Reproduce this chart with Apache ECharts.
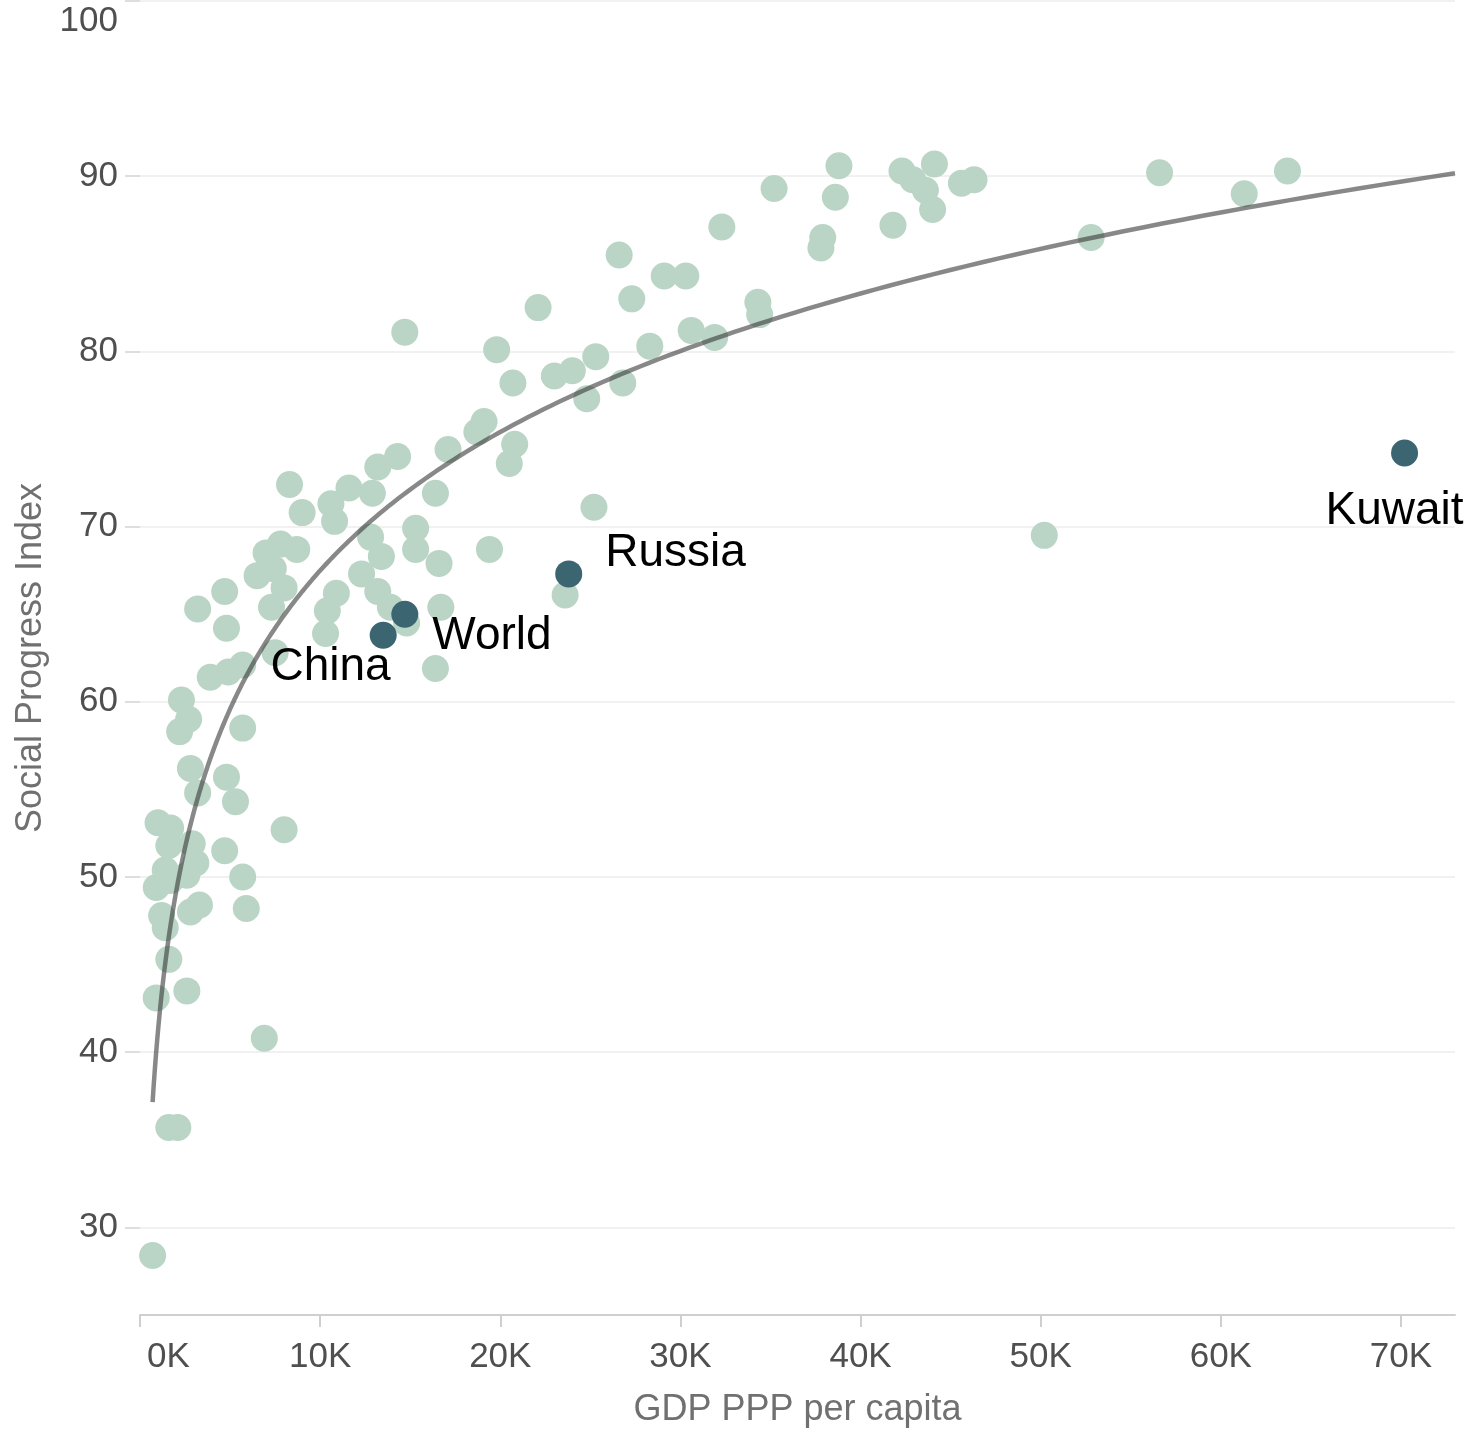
<!DOCTYPE html>
<html>
<head>
<meta charset="utf-8">
<title>Social Progress Index vs GDP PPP per capita</title>
<script src="https://cdn.jsdelivr.net/npm/echarts@6/dist/echarts.min.js"></script>
<style>
  html, body { margin: 0; padding: 0; background: #ffffff; }
  #chart { width: 1473px; height: 1430px; }
</style>
</head>
<body>
<div id="chart"></div>
<script>
// GDP PPP per capita (thousands of dollars) for each country
const gdpK = [
  35.2, 38.8, 38.6, 37.9, 37.8, 41.8, 42.3, 42.9, 44.1, 43.6,
  44.0, 45.6, 46.3, 52.8, 56.6, 61.3, 63.7, 32.3, 26.6, 27.3,
  29.1, 30.3, 28.3, 30.6, 31.9, 34.3, 34.4, 22.1, 14.7, 19.8,
  20.7, 23.0, 24.0, 25.3, 24.8, 26.8, 19.1, 18.7, 17.1, 20.8,
  20.5, 14.3, 13.2, 16.4, 25.2, 15.3, 15.3, 16.6, 19.4, 23.6,
  16.7, 16.4, 8.3, 9.0, 10.6, 10.8, 11.6, 12.9, 13.4, 12.8,
  12.3, 13.2, 13.9, 10.9, 10.4, 10.3, 14.8, 7.5, 7.0, 7.8,
  8.7, 6.5, 7.4, 8.0, 7.3, 4.7, 3.2, 4.8, 5.7, 4.9,
  3.9, 2.3, 2.7, 2.2, 5.7, 2.8, 3.2, 4.8, 5.3, 8.0,
  1.0, 1.7, 1.6, 2.9, 4.7, 3.1, 1.4, 0.9, 1.7, 2.6,
  3.3, 2.8, 1.2, 1.4, 5.7, 5.9, 1.6, 0.9, 2.6, 6.9,
  1.6, 2.1, 0.7, 50.2
];

// Social Progress Index score for the same countries
const spi = [
  89.3, 90.6, 88.8, 86.5, 85.9, 87.2, 90.3, 89.8, 90.7, 89.2,
  88.1, 89.6, 89.8, 86.5, 90.2, 89.0, 90.3, 87.1, 85.5, 83.0,
  84.3, 84.3, 80.3, 81.2, 80.8, 82.8, 82.1, 82.5, 81.1, 80.1,
  78.2, 78.6, 78.9, 79.7, 77.3, 78.2, 76.0, 75.4, 74.4, 74.7,
  73.6, 74.0, 73.4, 71.9, 71.1, 69.9, 68.7, 67.9, 68.7, 66.1,
  65.4, 61.9, 72.4, 70.8, 71.3, 70.3, 72.2, 71.9, 68.3, 69.4,
  67.3, 66.3, 65.4, 66.2, 65.2, 63.9, 64.5, 62.8, 68.5, 69.0,
  68.7, 67.2, 67.6, 66.5, 65.4, 66.3, 65.3, 64.2, 62.1, 61.7,
  61.4, 60.1, 59.0, 58.3, 58.5, 56.2, 54.8, 55.7, 54.3, 52.7,
  53.1, 52.8, 51.8, 51.9, 51.5, 50.8, 50.4, 49.4, 49.8, 50.1,
  48.4, 48.0, 47.8, 47.1, 50.0, 48.2, 45.3, 43.1, 43.5, 40.8,
  35.7, 35.7, 28.4, 69.5
];

// Highlighted entries
const highlightNames = ['Kuwait', 'Russia', 'World', 'China'];
const highlightGdpK = [70.2, 23.8, 14.7, 13.5];
const highlightSpi = [74.2, 67.3, 65.0, 63.8];

// Axis ticks
const xTicks = [0, 10, 20, 30, 40, 50, 60, 70];
const yTicks = [30, 40, 50, 60, 70, 80, 90, 100];
const xMin = 0, xMax = 73;
const yMin = 25, yMax = 100;

const FONT = "'Liberation Sans', Arial, Helvetica, sans-serif";
const TICK_COLOR = '#4f4f4f';

// Logarithmic trend line: least squares of SPI on ln(GDP) over every mark
function logFit(xs, ys) {
  const n = xs.length;
  let sx = 0, sy = 0, sxx = 0, sxy = 0;
  for (let i = 0; i < n; i++) {
    const lx = Math.log(xs[i]);
    sx += lx; sy += ys[i]; sxx += lx * lx; sxy += lx * ys[i];
  }
  const b = (n * sxy - sx * sy) / (n * sxx - sx * sx);
  const a = (sy - b * sx) / n;
  return { a, b };
}
const allX = gdpK.concat(highlightGdpK);
const allY = spi.concat(highlightSpi);
const fit = logFit(allX, allY);
const trendStart = Math.min.apply(null, allX);
const trendLine = [];
const steps = 240;
for (let i = 0; i <= steps; i++) {
  const x = Math.exp(Math.log(trendStart) + (Math.log(xMax) - Math.log(trendStart)) * i / steps);
  trendLine.push([x, fit.a + fit.b * Math.log(x)]);
}

const baseData = gdpK.map((g, i) => [g, spi[i]]);

// Label placement for highlighted points (relative to the marker box)
const labelPlacement = {
  Kuwait: { position: [3.5, 71.5], align: 'center' },
  Russia: { position: [50, -7.5], align: 'left' },
  World:  { position: [41, 35.5], align: 'left' },
  China:  { position: [21, 45.5], align: 'right' }
};

const highlightData = highlightNames.map((name, i) => ({
  name: name,
  value: [highlightGdpK[i], highlightSpi[i]],
  label: {
    show: true,
    formatter: name,
    position: labelPlacement[name].position,
    align: labelPlacement[name].align,
    verticalAlign: 'middle',
    fontFamily: FONT,
    fontSize: 46,
    color: '#000000'
  }
}));

const chart = echarts.init(document.getElementById('chart'), null, { renderer: 'canvas' });

chart.setOption({
  animation: false,
  backgroundColor: '#ffffff',
  grid: { left: 140, right: 18, top: 1, bottom: 115, containLabel: false, outerBoundsMode: 'none' },
  xAxis: {
    type: 'value',
    min: xMin,
    max: xMax,
    interval: 10,
    name: 'GDP PPP per capita',
    nameLocation: 'middle',
    nameGap: 77,
    nameTextStyle: { fontFamily: FONT, fontSize: 36, color: '#707070' },
    axisLine: { show: true, lineStyle: { color: '#cfcfcf', width: 2 } },
    axisTick: { show: true, length: 12, customValues: xTicks, lineStyle: { color: '#cfcfcf', width: 2 } },
    axisLabel: {
      customValues: xTicks,
      alignMinLabel: 'left',
      margin: 25,
      fontFamily: FONT,
      fontSize: 35,
      color: TICK_COLOR,
      formatter: v => (v === 0 ? '{first|0K}' : v + 'K'),
      rich: {
        first: { fontFamily: FONT, fontSize: 35, color: TICK_COLOR, padding: [0, 0, 0, 7] }
      }
    },
    splitLine: { show: false }
  },
  yAxis: {
    type: 'value',
    min: yMin,
    max: yMax,
    splitNumber: 8,
    name: 'Social Progress Index',
    nameLocation: 'middle',
    nameGap: 86,
    nameTextStyle: { fontFamily: FONT, fontSize: 36, color: '#707070' },
    axisLine: { show: false },
    axisTick: { show: true, length: 15, customValues: yTicks, lineStyle: { color: '#d4d4d4', width: 1.5 } },
    axisLabel: {
      customValues: yTicks,
      margin: 22,
      fontFamily: FONT,
      fontSize: 35,
      color: TICK_COLOR,
      formatter: v => (v === 100 ? '{top|100}' : String(v)),
      rich: {
        top: { fontFamily: FONT, fontSize: 35, color: TICK_COLOR, padding: [40, 0, 0, 0] }
      }
    },
    splitLine: { show: true, lineStyle: { color: '#ececec', width: 1.5 } }
  },
  series: [
    {
      name: 'Countries',
      type: 'scatter',
      data: baseData,
      symbol: 'circle',
      symbolSize: 27,
      itemStyle: { color: '#bad5c6', opacity: 1 },
      z: 2
    },
    {
      name: 'Trend',
      type: 'line',
      data: trendLine,
      showSymbol: false,
      smooth: false,
      lineStyle: { color: 'rgba(56,56,56,0.6)', width: 4.5 },
      z: 3,
      silent: true
    },
    {
      name: 'Highlighted',
      type: 'scatter',
      data: highlightData,
      symbol: 'circle',
      symbolSize: 27,
      itemStyle: { color: '#3a6571', opacity: 1 },
      z: 4
    }
  ]
});
</script>
</body>
</html>
